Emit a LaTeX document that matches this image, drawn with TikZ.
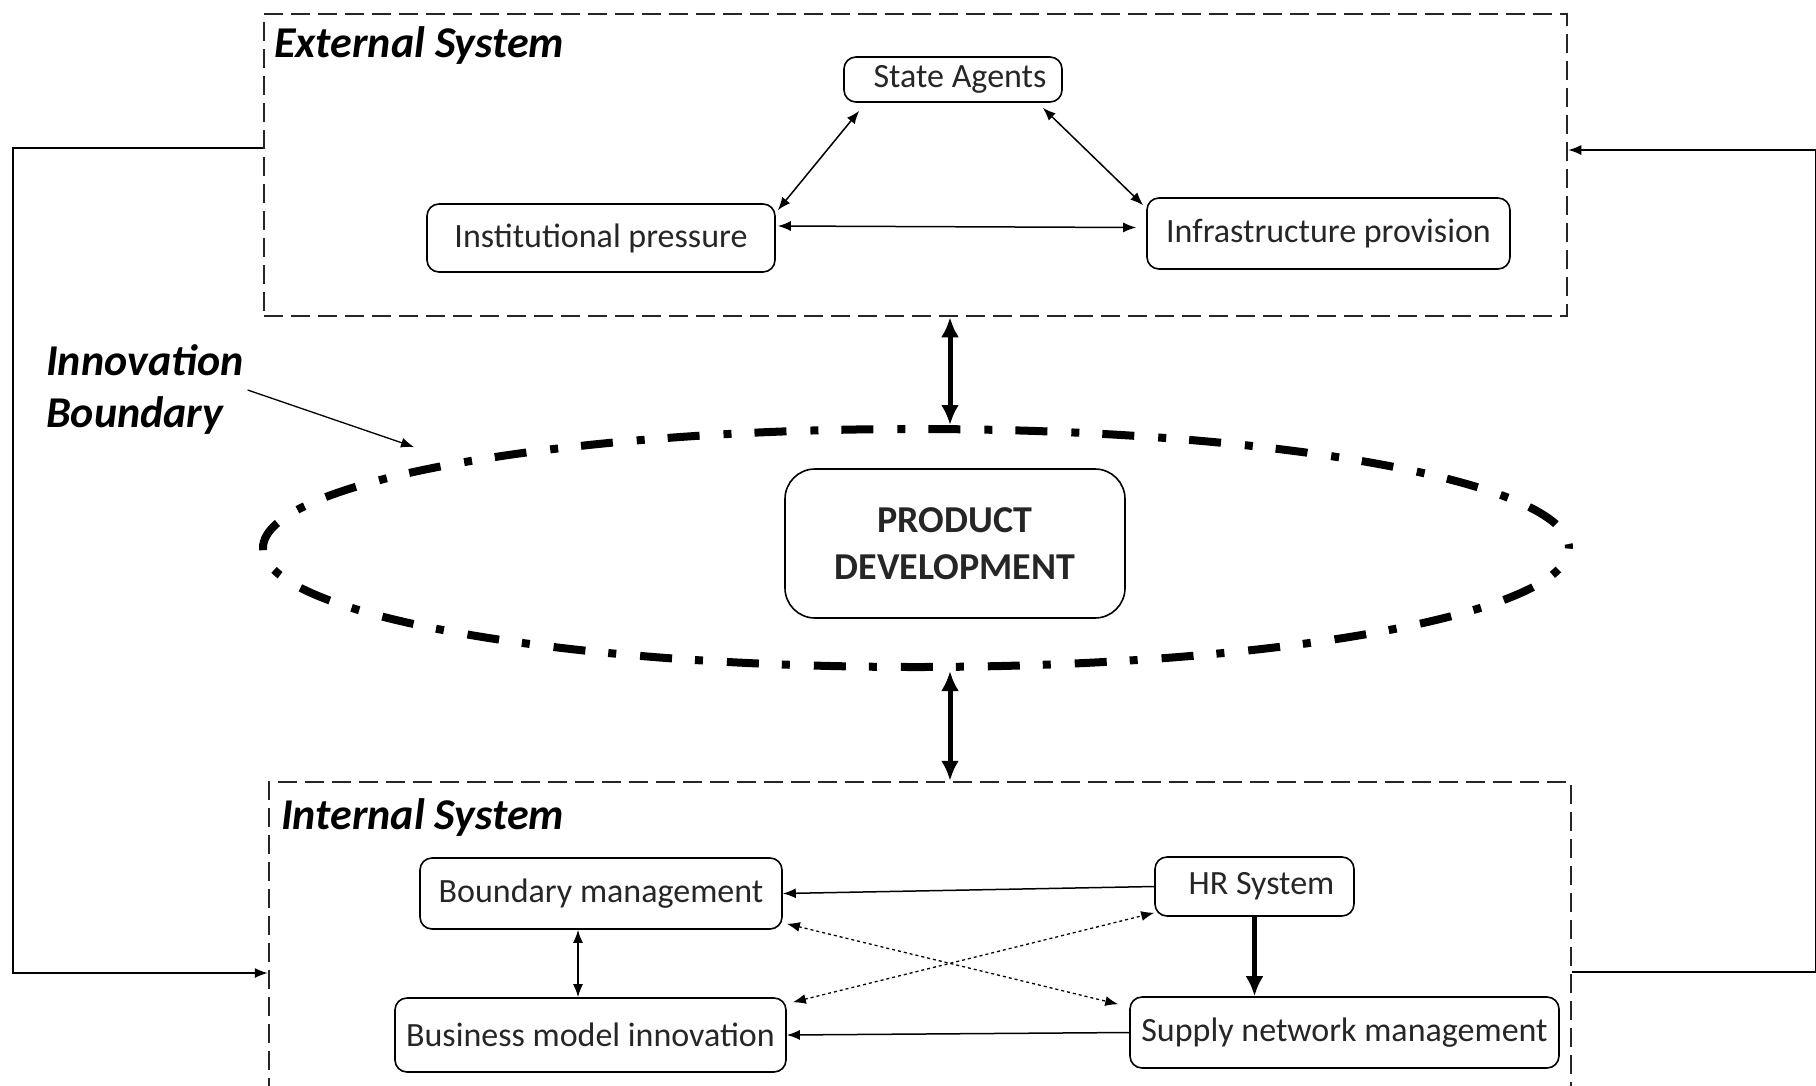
\documentclass[tikz,border=0pt]{standalone}
\usepackage{fontspec}
\setmainfont{Carlito}
\usetikzlibrary{arrows.meta,shapes.geometric,calc}
\begin{document}
\begin{tikzpicture}[x=1pt,y=-1pt,
  boxtext/.style={font=\fontsize{34}{40}\selectfont},
  rbox/.style={draw,line width=1.6pt,rounded corners=12pt,boxtext,inner sep=0pt,text=black!85},
  sysbox/.style={draw,line width=2.5pt,dash pattern=on 19pt off 8pt,inner sep=0pt,black!85},
  syslabel/.style={font=\fontsize{44}{50}\selectfont\bfseries\itshape,anchor=west,inner sep=0pt},
  arr/.style={line width=1.5pt,-{Latex[length=13pt,width=10pt]}},
  darr/.style={line width=1.5pt,{Latex[length=13pt,width=10pt]}-{Latex[length=13pt,width=10pt]}},
  dotarr/.style={line width=1.3pt,dash pattern=on 3pt off 3pt,{Latex[length=13pt,width=10pt]}-{Latex[length=13pt,width=10pt]}},
  thickarr/.style={line width=5pt,-{Latex[length=20pt,width=18pt]}},
  thickdarr/.style={line width=5pt,{Latex[length=20pt,width=18pt]}-{Latex[length=20pt,width=18pt]}},
  boundary/.style={draw,ellipse,line width=8pt,dash pattern=on 32pt off 23pt on 8pt off 24pt,dash phase=59pt,inner sep=0pt}
]
\useasboundingbox (0,0) rectangle (1816,1085);

% system containers
\node[sysbox,minimum width=1303pt,minimum height=302pt] (ext) at (915.5,165) {};
\node[sysbox,minimum width=1302pt,minimum height=340pt] (int) at (920,952) {};
\node[syslabel] (extl) at (274,46) {External System};
\node[syslabel] (intl) at (281,818) {Internal System};

% external system nodes
\node[rbox,minimum width=218pt,minimum height=45pt] (sa) at (953,79.5) {\hspace*{14pt}State Agents};
\node[rbox,minimum width=348pt,minimum height=68pt] (ip) at (601,238) {Institutional pressure};
\node[rbox,minimum width=363pt,minimum height=71pt] (inf) at (1328.5,233.5) {Infrastructure provision};

% innovation boundary
\node[boundary,minimum width=1306pt,minimum height=238pt] (ib) at (916,548) {};
\node[draw,line width=1.6pt,rounded corners=30pt,minimum width=340pt,minimum height=149pt,align=center,
      font=\fontsize{38}{46.5}\selectfont\bfseries,text=black!85] (pd) at (955,543.5) {PRODUCT\\DEVELOPMENT};
\node[font=\fontsize{44}{52}\selectfont\bfseries\itshape,align=left,anchor=west,inner sep=4pt] (ibl) at (42,390) {Innovation\\Boundary};
\coordinate (ibt) at (414,447);

% internal system nodes
\node[rbox,minimum width=362pt,minimum height=71pt] (bm) at (601,893.5) {Boundary management};
\node[rbox,minimum width=391pt,minimum height=74pt] (bmi) at (590.5,1035) {Business model innovation};
\node[rbox,minimum width=199pt,minimum height=59pt] (hr) at (1254.5,886.5) {\hspace*{14pt}HR System};
\node[rbox,minimum width=429pt,minimum height=71pt] (snm) at (1344.5,1032.5) {Supply network management};

% feedback loops
\coordinate (l1) at (13,148);
\coordinate (l2) at (13,973);
\coordinate (r1) at (1816,150);
\coordinate (r2) at (1816,972);
\draw[arr] (ext.west|-l1) -- (l1) -- (l2) -- (int.west|-l2);
\draw[arr] (int.east|-r2) -- (r2) -- (r1) -- (ext.east|-r1);

% external arrows
\draw[darr] ([shift={(16,8)}]sa.south west) -- ([shift={(2,7)}]ip.north east);
\draw[darr] ([shift={(-20,5)}]sa.south east) -- ([shift={(-3,8)}]inf.north west);
\draw[darr] ([shift={(2,-12)}]ip.east) -- ([shift={(-10,-6)}]inf.west);

% thick arrows
\draw[thickdarr] ([xshift=-5]ext.south -| pd.center) -- ([xshift=-5]ib.north -| pd.center);
\draw[thickdarr] ([xshift=-5]ib.south -| pd.center) -- ([xshift=-5]int.north -| pd.center);

% innovation boundary pointer
\draw[line width=1.3pt,-{Latex[length=13pt,width=10pt]}] (ibl.east) -- (ibt);

% internal arrows
\draw[arr] (hr.west) -- (bm.east);
\draw[arr] (snm.west) -- (bmi.east);
\draw[darr] ([xshift=-23]bm.south) -- ([xshift=-23]bm.south |- bmi.north);
\draw[thickarr] (hr.south) -- (hr.south |- snm.north);
\draw[dotarr] ([shift={(4,-6)}]bm.south east) -- ([shift={(-11,8)}]snm.north west);
\draw[dotarr] ([shift={(6,5)}]bmi.north east) -- ([shift={(0,-4)}]hr.south west);
\end{tikzpicture}
\end{document}
